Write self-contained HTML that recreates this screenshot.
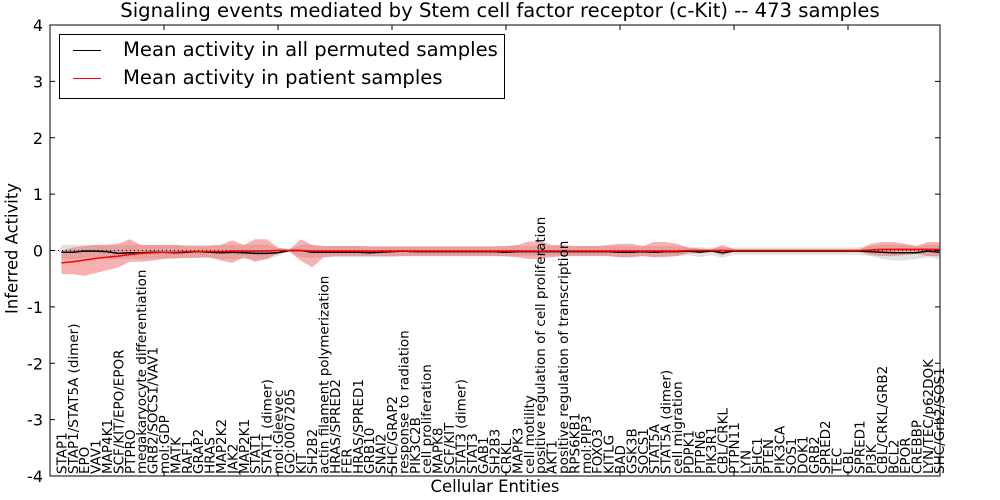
<!DOCTYPE html>
<html><head><meta charset="utf-8"><style>
body{margin:0;background:#fff;}
svg{display:block;font-family:"DejaVu Sans","Liberation Sans",sans-serif;}
</style></head><body>
<svg id="chart" width="1000" height="500"></svg>
<script>
const categories=["STAP1","STAP1/STAT5A (dimer)","EPO","VAV1","MAP4K1","SCF/KIT/EPO/EPOR","PTPRO","megakaryocyte differentiation","GRB2/SOCS1/VAV1","mol:GDP","MATK","RAF1","GRAP2","HRAS","MAP2K2","JAK2","MAP2K1","STAT1","STAT1 (dimer)","mol:Gleevec","GO:0007205","KIT","SH2B2","actin filament polymerization","HRAS/SPRED2","FER","HRAS/SPRED1","GRB10","SNAI2","SHC/GRAP2","response to radiation","PIK3C2B","cell proliferation","MAPK8","SCF/KIT","STAT3 (dimer)","STAT3","GAB1","SH2B3","CRKL","MAPK3","cell motility","positive regulation of cell proliferation","AKT1","positive regulation of transcription","RPS6KB1","mol:PIP3","FOXO3","KITLG","BAD","GSK3B","SOCS1","STAT5A","STAT5A (dimer)","cell migration","PDPK1","PTPN6","PIK3R1","CBL/CRKL","PTPN11","LYN","SHC1","PTEN","PIK3CA","SOS1","DOK1","GRB2","SPRED2","TEC","CBL","SPRED1","PI3K","CBL/CRKL/GRB2","BCL2","EPOR","CREBBP","LYN/TEC/p62DOK","SHC/Grb2/SOS1"];
const redMean=[-0.22,-0.2,-0.17,-0.14,-0.12,-0.1,-0.07,-0.05,-0.04,-0.03,-0.03,-0.02,-0.02,-0.02,-0.02,-0.01,-0.01,-0.01,-0.01,0,0,0,-0.01,-0.01,-0.01,-0.01,-0.01,-0.01,-0.01,-0.01,-0.01,-0.01,-0.01,-0.01,-0.01,-0.01,-0.01,-0.01,-0.01,-0.01,-0.01,-0.01,-0.01,-0.01,-0.01,-0.01,-0.01,-0.01,-0.01,-0.01,-0.01,-0.01,-0.01,-0.01,-0.01,0,0,0,0,0,0,0,0,0,0,0,0,0,0,0,0,0.01,0.02,0.02,0.02,0.02,0.02,0.02];
const redHi=[0.0,0.05,0.08,0.1,0.1,0.12,0.2,0.1,0.1,0.1,0.1,0.08,0.08,0.08,0.1,0.18,0.1,0.2,0.2,0.05,0.02,0.2,0.1,0.08,0.08,0.08,0.08,0.07,0.07,0.07,0.07,0.07,0.07,0.07,0.07,0.07,0.07,0.07,0.07,0.08,0.1,0.16,0.16,0.1,0.1,0.08,0.08,0.08,0.1,0.12,0.12,0.08,0.15,0.15,0.12,0.05,0.03,0.02,0.1,0.02,0.02,0.02,0.02,0.02,0.02,0.02,0.02,0.02,0.02,0.02,0.02,0.12,0.15,0.15,0.12,0.08,0.15,0.15];
const redLo=[-0.42,-0.42,-0.45,-0.4,-0.35,-0.3,-0.2,-0.2,-0.18,-0.15,-0.14,-0.13,-0.13,-0.12,-0.18,-0.22,-0.12,-0.2,-0.15,-0.05,-0.02,-0.18,-0.3,-0.12,-0.1,-0.1,-0.1,-0.1,-0.1,-0.1,-0.1,-0.1,-0.1,-0.1,-0.1,-0.1,-0.1,-0.1,-0.1,-0.1,-0.12,-0.15,-0.15,-0.12,-0.1,-0.1,-0.1,-0.1,-0.1,-0.12,-0.12,-0.1,-0.12,-0.12,-0.1,-0.05,-0.03,-0.02,-0.08,-0.02,-0.02,-0.02,-0.02,-0.02,-0.02,-0.02,-0.02,-0.02,-0.02,-0.02,-0.02,-0.08,-0.1,-0.1,-0.08,-0.06,-0.1,-0.1];
const blackMean=[-0.03,-0.03,-0.01,-0.01,-0.02,-0.05,-0.04,-0.04,-0.03,-0.03,-0.04,-0.03,-0.02,-0.03,-0.04,-0.03,-0.04,-0.05,-0.05,-0.04,0,0,-0.03,-0.03,-0.03,-0.03,-0.03,-0.04,-0.03,-0.02,-0.01,-0.02,-0.02,-0.02,-0.02,-0.02,-0.02,-0.02,-0.02,-0.03,-0.02,-0.02,-0.02,-0.02,-0.02,-0.02,-0.02,-0.02,-0.02,-0.03,-0.03,-0.02,-0.03,-0.02,-0.02,-0.01,-0.03,-0.01,-0.04,-0.01,-0.01,-0.01,-0.01,-0.01,-0.01,-0.01,-0.01,-0.01,-0.01,-0.01,-0.01,-0.02,-0.03,-0.04,-0.04,-0.04,-0.01,-0.03];
const grayHi=[0.1,0.1,0.1,0.1,0.1,0.1,0.1,0.1,0.1,0.1,0.1,0.1,0.1,0.1,0.1,0.1,0.1,0.1,0.1,0.05,0.02,0.1,0.1,0.08,0.08,0.08,0.08,0.08,0.08,0.08,0.08,0.08,0.08,0.08,0.08,0.08,0.08,0.08,0.08,0.08,0.08,0.08,0.08,0.08,0.08,0.08,0.08,0.08,0.08,0.08,0.08,0.08,0.08,0.08,0.08,0.06,0.06,0.05,0.06,0.05,0.05,0.05,0.05,0.05,0.05,0.05,0.05,0.05,0.05,0.05,0.06,0.08,0.1,0.1,0.1,0.08,0.1,0.1];
const grayLo=[-0.15,-0.15,-0.13,-0.12,-0.13,-0.15,-0.15,-0.15,-0.14,-0.14,-0.14,-0.13,-0.12,-0.13,-0.15,-0.15,-0.15,-0.16,-0.16,-0.1,-0.02,-0.12,-0.13,-0.12,-0.12,-0.12,-0.12,-0.12,-0.12,-0.12,-0.1,-0.1,-0.1,-0.1,-0.1,-0.1,-0.1,-0.1,-0.1,-0.11,-0.1,-0.1,-0.1,-0.1,-0.1,-0.1,-0.1,-0.1,-0.1,-0.12,-0.12,-0.1,-0.12,-0.1,-0.1,-0.08,-0.12,-0.08,-0.13,-0.07,-0.07,-0.07,-0.07,-0.07,-0.07,-0.07,-0.07,-0.07,-0.07,-0.07,-0.08,-0.1,-0.15,-0.18,-0.18,-0.15,-0.12,-0.15];
const yTicks=[4,3,2,1,0,-1,-2,-3,-4];

const svg=document.getElementById('chart');
const NS='http://www.w3.org/2000/svg';
const L=50,R=940,T=25,B=476;
const DX=11.4;
const xs=i=>L+(i+1)*DX;
const ys=v=>T+(4-v)/8*(B-T);
function mk(tag,attrs,parent){const e=document.createElementNS(NS,tag);for(const k in attrs)e.setAttribute(k,attrs[k]);(parent||svg).appendChild(e);return e;}
function band(lo,hi,fill,name){
  let d='M'+hi.map((v,i)=>xs(i)+','+ys(v)).join('L');
  for(let i=lo.length-1;i>=0;i--)d+='L'+xs(i)+','+ys(lo[i]);
  const p=mk('path',{d:d+'Z',fill:fill});
  
  
}
function line(arr,stroke,name){
  const p=mk('polyline',{points:arr.map((v,i)=>xs(i)+','+ys(v)).join(' '),fill:'none',stroke:stroke,'stroke-width':1.5});
  
  
}
band(grayLo,grayHi,'rgba(180,180,180,0.4)','permuted-range-band');
band(redLo,redHi,'rgba(240,80,80,0.45)','patient-range-band');
const zl=mk('line',{x1:L,x2:R,y1:ys(0),y2:ys(0),stroke:'#000','stroke-dasharray':'1,3'});


line(blackMean,'#000','permuted-mean-line');
line(redMean,'#f00','patient-mean-line');
const frame=mk('rect',{x:L,y:T,width:R-L,height:B-T,fill:'none',stroke:'#000'});


yTicks.forEach(v=>{
  const y=ys(v);
  mk('line',{x1:L,x2:L+5,y1:y,y2:y,stroke:'#000'});
  mk('line',{x1:R-5,x2:R,y1:y,y2:y,stroke:'#000'});
  const t=mk('text',{x:L-7,y:y+6,'text-anchor':'end','font-size':16});
  t.textContent=v;
  
  
});
for(let k=1;k<=7;k++){const x=L+k*10*DX;mk('line',{x1:x,x2:x,y1:T,y2:T+5,stroke:'#000'});mk('line',{x1:x,x2:x,y1:B-5,y2:B,stroke:'#000'});}
categories.forEach((c,i)=>{
  const x=xs(i)+5;
  const t=mk('text',{transform:'translate('+x+','+(B-2)+') rotate(-90)','font-size':13.5});
  t.textContent=c;
  
  
});
</script>
<div style="position:absolute;left:0;top:0;width:1000px;height:500px;pointer-events:none;font-family:'DejaVu Sans','Liberation Sans',sans-serif;">
  <div style="position:absolute;left:0;width:1000px;top:-1px;text-align:center;font-size:19.6px;">Signaling events mediated by Stem cell factor receptor (c-Kit) -- 473 samples</div>
  <div style="position:absolute;left:59px;top:34px;width:444px;height:63px;border:1px solid #000;background:#fff;">
    <div style="position:absolute;left:13px;top:3px;font-size:19.6px;white-space:nowrap;"><span style="display:inline-block;width:28px;height:0;border-top:1.5px solid #000;vertical-align:middle;margin-right:22px;"></span>Mean activity in all permuted samples</div>
    <div style="position:absolute;left:13px;top:31px;font-size:19.6px;white-space:nowrap;"><span style="display:inline-block;width:28px;height:0;border-top:1.5px solid #f00;vertical-align:middle;margin-right:22px;"></span>Mean activity in patient samples</div>
  </div>
  <div style="position:absolute;left:50px;width:890px;top:477px;text-align:center;font-size:16.4px;">Cellular Entities</div>
  <div style="position:absolute;left:-63px;top:239px;width:150px;text-align:center;font-size:16.4px;transform:rotate(-90deg);">Inferred Activity</div>
</div>
</body></html>
